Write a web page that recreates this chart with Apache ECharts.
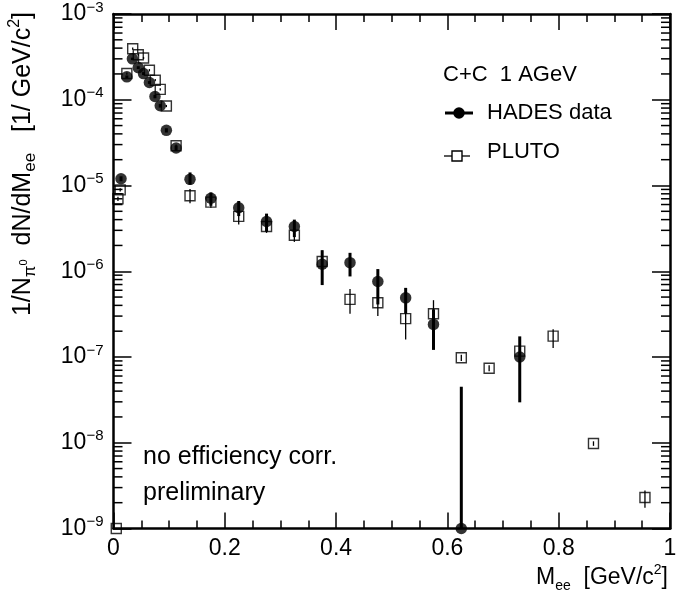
<!DOCTYPE html>
<html>
<head>
<meta charset="utf-8">
<script src="https://cdn.jsdelivr.net/npm/echarts@6/dist/echarts.min.js"></script>
<style>
  html, body { margin: 0; padding: 0; background: #fff; }
  #chart { width: 696px; height: 595px; }
</style>
</head>
<body>
<div id="chart"></div>
<script>
// Dielectron invariant-mass spectrum, C+C at 1 AGeV: HADES data vs PLUTO simulation.

// HADES data points (bin centre, yield, error-bar low/high)
const hadesX  = [0.0135, 0.024, 0.034, 0.0445, 0.054, 0.0645, 0.0745, 0.084, 0.095, 0.1125,
                 0.1375, 0.175, 0.225, 0.275, 0.325, 0.375, 0.425, 0.475, 0.525, 0.575, 0.625, 0.73];
const hadesY  = [1.2e-5, 1.85e-4, 3.0e-4, 2.37e-4, 2.02e-4, 1.59e-4, 1.09e-4, 8.5e-5, 4.4e-5, 2.74e-5,
                 1.18e-5, 7.1e-6, 5.5e-6, 3.8e-6, 3.33e-6, 1.21e-6, 1.26e-6, 7.6e-7, 4.9e-7, 2.4e-7, 1e-9, 1.0e-7];
const hadesLo = [1.12e-5, 1.78e-4, 2.9e-4, 2.28e-4, 1.94e-4, 1.53e-4, 1.04e-4, 8.1e-5, 4.15e-5, 2.55e-5,
                 1.02e-5, 5.8e-6, 4.4e-6, 2.9e-6, 2.5e-6, 6.9e-7, 8.7e-7, 4.1e-7, 3.2e-7, 1.21e-7, 1e-9, 2.96e-8];
const hadesHi = [1.28e-5, 1.92e-4, 3.1e-4, 2.46e-4, 2.1e-4, 1.65e-4, 1.14e-4, 8.9e-5, 4.65e-5, 2.93e-5,
                 1.42e-5, 8.3e-6, 6.6e-6, 4.7e-6, 4.0e-6, 1.76e-6, 1.64e-6, 1.06e-6, 6.4e-7, 3.6e-7, 4.5e-8, 1.74e-7];

// PLUTO simulation points (bin centre, yield, error-bar low/high)
const plutoX  = [0.005, 0.008, 0.012, 0.024, 0.0345, 0.0445, 0.054, 0.0645, 0.075, 0.084, 0.095, 0.1125,
                 0.1375, 0.175, 0.225, 0.275, 0.325, 0.375, 0.425, 0.475, 0.525, 0.575, 0.625, 0.675,
                 0.73, 0.79, 0.8625, 0.955];
const plutoY  = [1e-9, 7.0e-6, 8.9e-6, 2.02e-4, 3.94e-4, 3.35e-4, 3.07e-4, 2.21e-4, 1.69e-4, 1.32e-4, 8.45e-5, 2.91e-5,
                 7.6e-6, 6.4e-6, 4.36e-6, 3.33e-6, 2.63e-6, 1.3e-6, 4.7e-7, 4.3e-7, 2.8e-7, 3.2e-7, 9.8e-8, 7.4e-8,
                 1.17e-7, 1.75e-7, 9.8e-9, 2.3e-9];
const plutoLo = [1e-9, 6.6e-6, 8.5e-6, 1.96e-4, 3.82e-4, 3.25e-4, 2.98e-4, 2.14e-4, 1.64e-4, 1.28e-4, 8.2e-5, 2.82e-5,
                 6.2e-6, 5.5e-6, 3.5e-6, 2.8e-6, 2.2e-6, 1.12e-6, 3.2e-7, 3.0e-7, 1.6e-7, 1.9e-7, 9.0e-8, 6.8e-8,
                 9.5e-8, 1.27e-7, 9.2e-9, 1.75e-9];
const plutoHi = [1e-9, 7.4e-6, 9.3e-6, 2.08e-4, 4.06e-4, 3.45e-4, 3.16e-4, 2.28e-4, 1.74e-4, 1.36e-4, 8.7e-5, 3.0e-5,
                 9.1e-6, 7.4e-6, 5.0e-6, 3.9e-6, 3.1e-6, 1.75e-6, 6.2e-7, 5.2e-7, 4.6e-7, 4.6e-7, 1.06e-7, 8.0e-8,
                 1.4e-7, 2.1e-7, 1.04e-8, 2.78e-9];

// Axis ranges and tick labels
const xMin = 0, xMax = 1, xStep = 0.2;
const xTickLabels = ['0', '0.2', '0.4', '0.6', '0.8', '1'];
const yMin = 1e-9, yMax = 1e-3;
const yTickExponents = [-9, -8, -7, -6, -5, -4, -3];

const FONT = '"Liberation Sans", Arial, Helvetica, sans-serif';

// Minor ticks of the log axis at 2..9 x 10^n
const yMinorTicks = [];
for (let e = -9; e < -3; e++) {
  for (let m = 2; m <= 9; m++) yMinorTicks.push([0, m * Math.pow(10, e)]);
}

const zip = (xs, ys, lo, hi) => xs.map((x, i) => [x, ys[i], lo[i], hi[i]]);
const hadesPts = zip(hadesX, hadesY, hadesLo, hadesHi);
const plutoPts = zip(plutoX, plutoY, plutoLo, plutoHi);

function errorBar(width) {
  return function (params, api) {
    const x = api.value(0);
    const p1 = api.coord([x, api.value(3)]);
    const p2 = api.coord([x, api.value(2)]);
    return {
      type: 'line',
      shape: { x1: p1[0], y1: p1[1], x2: p2[0], y2: p2[1] },
      style: { stroke: '#000', lineWidth: width }
    };
  };
}

const chart = echarts.init(document.getElementById('chart'), null, { renderer: 'canvas' });

const axisLine = { show: true, onZero: false, lineStyle: { color: '#000', width: 2.5 } };

const xCommon = {
  type: 'value', min: xMin, max: xMax, interval: xStep,
  axisLine: axisLine,
  axisTick: { show: true, inside: true, length: 16, lineStyle: { color: '#000', width: 1.5 } },
  minorTick: { show: true, splitNumber: 4, length: 8, lineStyle: { color: '#000', width: 1.5 } },
  splitLine: { show: false }
};
const yCommon = {
  type: 'log', logBase: 10, min: yMin, max: yMax, splitNumber: 6,
  axisLine: axisLine,
  axisTick: { show: true, inside: true, length: 18, lineStyle: { color: '#000', width: 1.5 } },
  splitLine: { show: false }
};

chart.setOption({
  animation: false,
  backgroundColor: '#fff',
  grid: { left: 113.5, right: 26, top: 10, bottom: 66.5 },
  xAxis: [
    Object.assign({}, xCommon, {
      position: 'bottom',
      axisLabel: {
        show: true, margin: 9, color: '#000', fontFamily: FONT, fontSize: 23,
        formatter: (v) => xTickLabels[Math.round((v - xMin) / xStep)]
      }
    }),
    Object.assign({}, xCommon, { position: 'top', axisLabel: { show: false } })
  ],
  yAxis: [
    Object.assign({}, yCommon, {
      position: 'left',
      axisLabel: {
        show: true, margin: 10, color: '#000', fontFamily: FONT,
        formatter: (v) => {
          const e = Math.round(Math.log10(v));
          return yTickExponents.indexOf(e) >= 0 ? '{b|10}{e|\u2212' + Math.abs(e) + '}' : '';
        },
        rich: {
          b: { fontSize: 23, fontFamily: FONT, color: '#000', lineHeight: 28 },
          e: { fontSize: 15, fontFamily: FONT, color: '#000', verticalAlign: 'top', lineHeight: 15 }
        }
      }
    }),
    Object.assign({}, yCommon, { position: 'right', axisLabel: { show: false } })
  ],
  series: [
    {
      name: 'minor ticks', type: 'custom', silent: true, clip: false,
      xAxisIndex: 0, yAxisIndex: 0,
      data: yMinorTicks,
      renderItem: (params, api) => {
        const v = api.value(1);
        const L = api.coord([xMin, v]);
        const R = api.coord([xMax, v]);
        return {
          type: 'group',
          children: [
            { type: 'line', shape: { x1: L[0], y1: L[1], x2: L[0] + 9, y2: L[1] },
              style: { stroke: '#000', lineWidth: 1.5 } },
            { type: 'line', shape: { x1: R[0] - 9, y1: R[1], x2: R[0], y2: R[1] },
              style: { stroke: '#000', lineWidth: 1.5 } }
          ]
        };
      }
    },
    {
      name: 'PLUTO errors', type: 'custom', silent: true, clip: false,
      data: plutoPts, encode: { x: 0, y: 1 }, renderItem: errorBar(1.3), z: 3
    },
    {
      name: 'PLUTO', type: 'scatter', data: plutoPts.map(p => [p[0], p[1]]),
      symbol: 'rect', symbolSize: 10, clip: false, z: 4,
      itemStyle: { color: 'rgba(0,0,0,0)', borderColor: '#000', borderWidth: 1.4 }
    },
    {
      name: 'HADES errors', type: 'custom', silent: true, clip: false,
      data: hadesPts, encode: { x: 0, y: 1 }, renderItem: errorBar(3), z: 5
    },
    {
      name: 'HADES data', type: 'scatter', data: hadesPts.map(p => [p[0], p[1]]),
      symbol: 'circle', symbolSize: 11.5, clip: false, z: 6,
      itemStyle: { color: '#000' }
    }
  ],
  graphic: [
    // legend
    { type: 'text', left: 443, top: 64, style: { text: 'C+C  1 AGeV', font: '22px ' + FONT, fill: '#000' } },
    { type: 'line', shape: { x1: 445, y1: 113, x2: 473, y2: 113 }, style: { stroke: '#000', lineWidth: 3 } },
    { type: 'circle', shape: { cx: 459, cy: 113, r: 5.75 }, style: { fill: '#000' } },
    { type: 'text', left: 487, top: 102, style: { text: 'HADES data', font: '22px ' + FONT, fill: '#000' } },
    { type: 'line', shape: { x1: 444, y1: 156, x2: 470, y2: 156 }, style: { stroke: '#000', lineWidth: 1.3 } },
    { type: 'rect', shape: { x: 452, y: 151, width: 10, height: 10 }, style: { fill: '#fff', stroke: '#000', lineWidth: 1.4 } },
    { type: 'text', left: 487, top: 141, style: { text: 'PLUTO', font: '22px ' + FONT, fill: '#000' } },
    // annotations
    { type: 'text', x: 143, y: 457, style: { text: 'no efficiency corr.', font: '25px ' + FONT, fill: '#000', verticalAlign: 'middle' } },
    { type: 'text', x: 143, y: 493, style: { text: 'preliminary', font: '25px ' + FONT, fill: '#000', verticalAlign: 'middle' } },
    // x axis title
    {
      type: 'text', x: 668, y: 578,
      style: {
        text: 'M{s|ee}  [GeV/c{p|2}]', align: 'right', verticalAlign: 'middle',
        fontFamily: FONT, fontSize: 23, fill: '#000', lineHeight: 30,
        rich: {
          s: { fontSize: 14, fontFamily: FONT, lineHeight: 14, verticalAlign: 'bottom' },
          p: { fontSize: 14, fontFamily: FONT, lineHeight: 14, verticalAlign: 'top' }
        }
      }
    },
    // y axis title
    {
      type: 'text', x: 23, y: 12, rotation: Math.PI / 2,
      style: {
        text: '1/N{s|\u03c0}{ss|0}  dN/dM{s|ee}   [1/ GeV/c{p|2}]', align: 'right', verticalAlign: 'middle',
        fontFamily: FONT, fontSize: 25, fill: '#000', lineHeight: 32,
        rich: {
          s: { fontSize: 17, fontFamily: FONT, lineHeight: 16, verticalAlign: 'bottom' },
          ss: { fontSize: 11, fontFamily: FONT, lineHeight: 11, verticalAlign: 'bottom', padding: [0, 0, 10, 0] },
          p: { fontSize: 16, fontFamily: FONT, lineHeight: 16, verticalAlign: 'top' }
        }
      }
    }
  ]
});
</script>
</body>
</html>
